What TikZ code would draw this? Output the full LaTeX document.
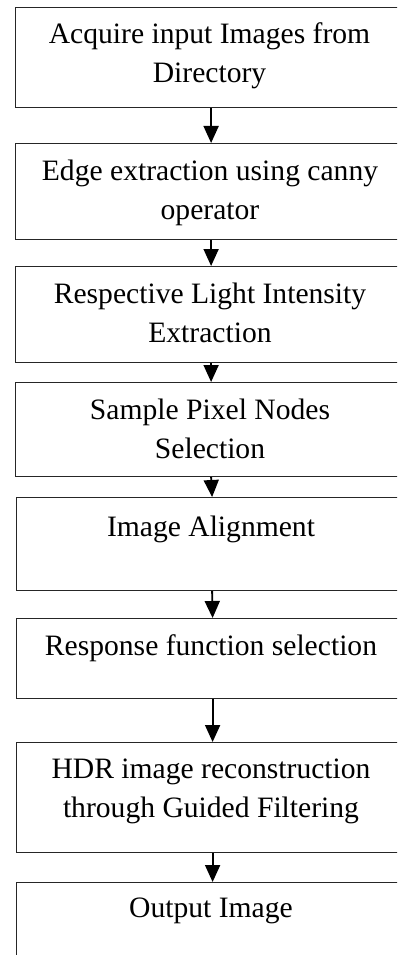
\documentclass[tikz,border=0pt]{standalone}
\usepackage{fontspec}
\setmainfont{Liberation Serif}
\usetikzlibrary{arrows.meta}
\begin{document}
\begin{tikzpicture}[x=1pt,y=1pt,
  stepbox/.style={draw=black!85, line width=1.2pt, rectangle, minimum width=392pt, inner sep=0pt, anchor=north west},
  steptext/.style={anchor=base, align=center, inner sep=0pt, font=\fontsize{29.6}{39}\selectfont},
  flow/.style={line width=1.8pt, -{Triangle[width=15pt,length=17pt]}}]
\useasboundingbox (0,0) rectangle (397,-955);
\fill[white] (0,0) rectangle (397,-955);
\clip (0,0) rectangle (397,-955);
% boxes
\node[stepbox, minimum height=100pt] (b1) at (14.5,-7) {};
\node[stepbox, minimum height=96pt]  (b2) at (14.5,-143) {};
\node[stepbox, minimum height=96pt]  (b3) at (14.5,-266) {};
\node[stepbox, minimum height=94pt]  (b4) at (14.5,-382) {};
\node[stepbox, minimum height=93pt]  (b5) at (15.5,-497) {};
\node[stepbox, minimum height=80pt]  (b6) at (16,-618) {};
\node[stepbox, minimum height=110pt] (b7) at (16,-742) {};
\node[stepbox, minimum height=100pt] (b8) at (16,-882) {};
% texts (base anchor = baseline of the last line)
\node[steptext] (t1) at (209.5,-83) {Acquire input Images from\\Directory};
\node[steptext] (t2) at (210,-219) {Edge extraction using canny\\operator};
\node[steptext] (t3) at (210,-342) {Respective Light Intensity\\Extraction};
\node[steptext] (t4) at (210,-458) {Sample Pixel Nodes\\Selection};
\node[steptext] (t5) at (211,-536) {Image Alignment};
\node[steptext] (t6) at (211,-655) {Response function selection};
\node[steptext] (t7) at (211,-817) {HDR image reconstruction\\through Guided Filtering};
\node[steptext] (t8) at (211,-917) {Output Image};
% arrows
\draw[flow] (b1.south) -- (b2.north);
\draw[flow] (b2.south) -- (b3.north);
\draw[flow] (b3.south) -- (b4.north);
\draw[flow] (b4.south) -- (b5.north);
\draw[flow] (b5.south) -- (b6.north);
\draw[flow] (b6.south) -- (b7.north);
\draw[flow] (b7.south) -- (b8.north);
\end{tikzpicture}
\end{document}
